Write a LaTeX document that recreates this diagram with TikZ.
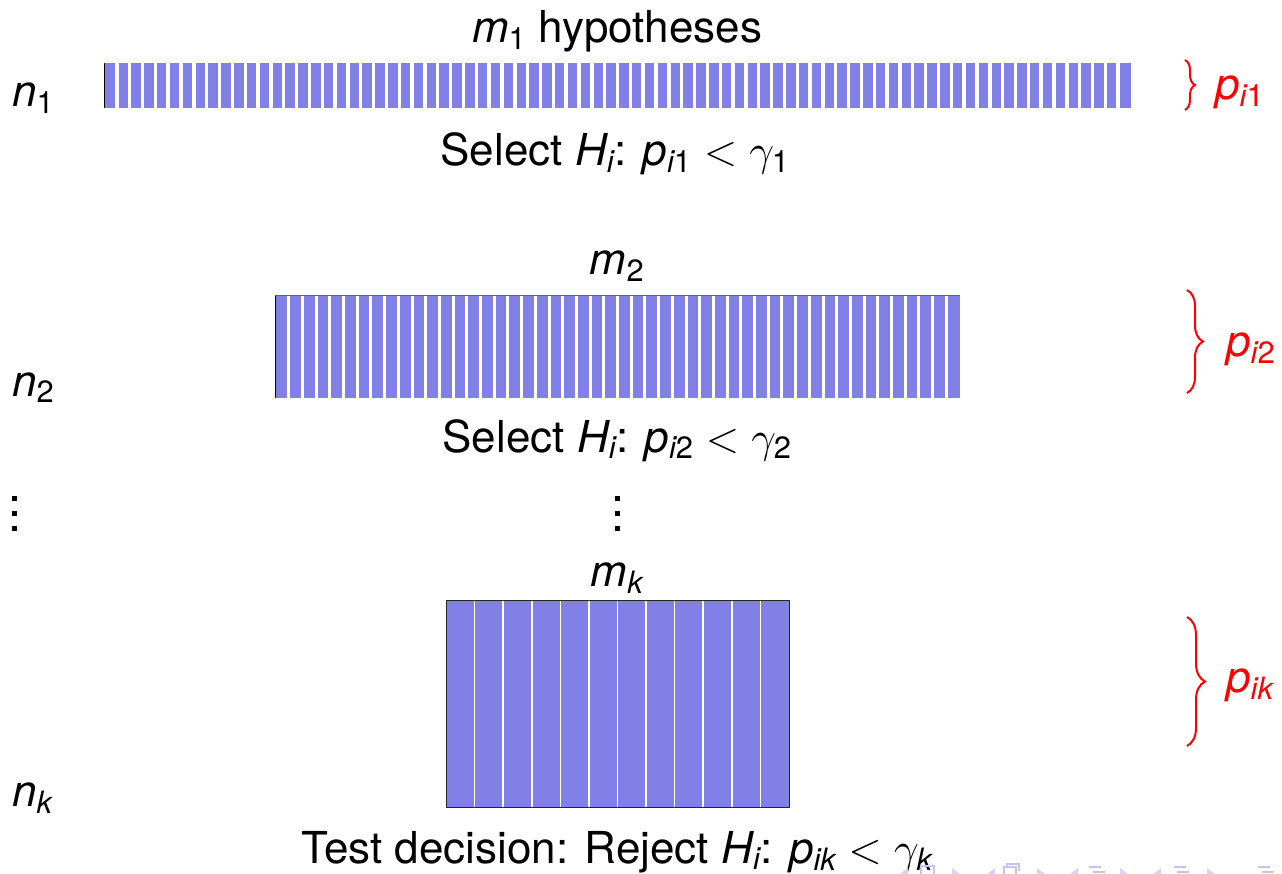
\documentclass[tikz,border=0pt]{standalone}
\usepackage{fix-cm}
\usepackage{amsmath}
\usepackage{fontspec}
\setmainfont{TeX Gyre Heros}
\usetikzlibrary{decorations.pathreplacing}
\definecolor{barfill}{RGB}{128,128,230}
\definecolor{navfg}{RGB}{196,196,236}
\definecolor{navfgl}{RGB}{214,214,242}
\tikzset{
  lbl/.style={anchor=base, inner sep=0pt, font=\fontsize{44}{52}\selectfont},
  lblw/.style={lbl, anchor=base west},
  plbl/.style={lblw, text=red},
  pbrace/.style={draw=red, line width=2pt, decorate,
                 decoration={brace, amplitude=#1}},
  gapline/.style={draw=white, line width=#1},
  vdot/.style={fill=black},
}
% italic sans letters and upright sans digits in formulas
\newcommand\iv[1]{\mathit{#1}}
\newcommand\dg[1]{\text{#1}}
\begin{document}
\begin{tikzpicture}[x=1pt, y=-1pt]
\useasboundingbox (0,0) rectangle (1282,874);

% ---- level 1: m_1 hypotheses, n_1 observations
\node[lbl] (top1) at (617,43) {$\iv{m}_{\dg{1}}$ hypotheses};
\node[lblw] (n1) at (12,107) {$\iv{n}_{\dg{1}}$};
\fill[barfill] (104,63) rectangle (1131,108);
\foreach \k in {1,...,79}
  \draw[gapline=3.4] ({104+\k*(1027/80)},63) -- ++(0,45);
\draw[black, line width=1.2] (104.5,63) -- (104.5,108);
\node[lbl] (sel1) at (615,166) {Select $\iv{H}_{\iv{i}}$: $\iv{p}_{\iv{i}\dg{1}} < \gamma_{\dg{1}}$};
\coordinate (b1t) at (1185,60);
\coordinate (b1b) at (1185,110);
\draw[pbrace=10] (b1t) -- (b1b);
\node[plbl] (p1) at (1215,100) {$\iv{p}_{\iv{i}\dg{1}}$};

% ---- level 2
\node[lbl] (top2) at (617,275) {$\iv{m}_{\dg{2}}$};
\node[lblw] (n2) at (12,396) {$\iv{n}_{\dg{2}}$};
\fill[barfill] (275,295) rectangle (960,398);
\foreach \k in {1,...,49}
  \draw[gapline=3] ({275+\k*(685/50)},295) -- ++(0,103);
\draw[black, line width=1.2] (275.5,295) -- (275.5,398);
\draw[barfill!70!black, line width=0.8] (275,295.5) -- (960,295.5);
\node[lbl] (sel2) at (617,452) {Select $\iv{H}_{\iv{i}}$: $\iv{p}_{\iv{i}\dg{2}} < \gamma_{\dg{2}}$};
\coordinate (b2t) at (1187,290);
\coordinate (b2b) at (1187,393);
\draw[pbrace=16] (b2t) -- (b2b);
\node[plbl] (p2) at (1226,357) {$\iv{p}_{\iv{i}\dg{2}}$};

% ---- vertical dots
\foreach \yy in {496,511,526} {
  \fill[vdot] (12,\yy) rectangle ++(4.5,4.5);
  \fill[vdot] (615,\yy) rectangle ++(4.5,4.5);
}

% ---- level k
\node[lbl] (topk) at (617,586) {$\iv{m}_{\iv{k}}$};
\node[lblw] (nk) at (12,806) {$\iv{n}_{\iv{k}}$};
\fill[barfill] (446,600) rectangle (789,807);
\foreach \k in {1,...,11}
  \draw[gapline=1.6] ({446+\k*(343/12)},600) -- ++(0,207);
\draw[black!85, line width=1] (446,600) rectangle (789,807);
\node[lbl] (dec) at (617,863) {Test decision: Reject $\iv{H}_{\iv{i}}$: $\iv{p}_{\iv{i}\iv{k}} < \gamma_{\iv{k}}$};
\coordinate (bkt) at (1187,617);
\coordinate (bkb) at (1187,746);
\draw[pbrace=18] (bkt) -- (bkb);
\node[plbl] (pk) at (1226,692) {$\iv{p}_{\iv{i}\iv{k}}$};

% ---- navigation symbols along the lower edge
\begin{scope}[navfgl]
  \foreach \xx in {900,987,1070,1153} \fill (\xx,874) -- ++(8,-6) -- ++(0,6) -- cycle;
  \foreach \xx in {952,1037,1120,1207} \fill (\xx,874) -- ++(0,-6) -- ++(8,6) -- cycle;
\end{scope}
\begin{scope}[navfg]
  \draw[line width=1.2] (921,874) -- (921,866) -- (934,866) -- (934,874);
  \draw[line width=1.2] (1004,874) -- (1004,867) -- (1016,867) -- (1016,874);
  \draw[line width=1.2] (1007,867) -- (1007,864) -- (1019,864) -- (1019,871);
  \fill (1089,866) rectangle ++(12,2);
  \fill (1093,871) rectangle ++(12,2);
  \fill (1174,866) rectangle ++(12,2);
  \fill (1177,871) rectangle ++(12,2);
  \fill (1258,866) rectangle ++(12,2);
  \fill (1262,871) rectangle ++(12,2);
\end{scope}
\end{tikzpicture}
\end{document}
